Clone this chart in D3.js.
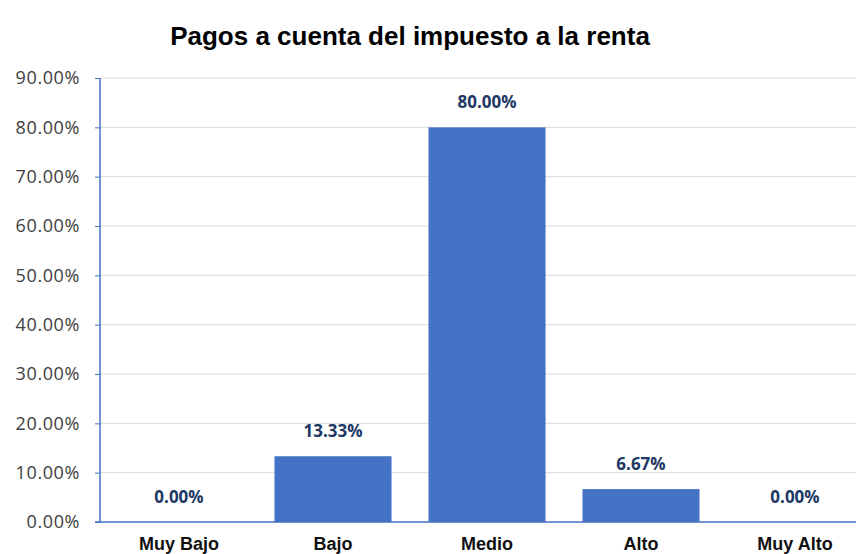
<!DOCTYPE html>
<html>
<head>
<meta charset="utf-8">
<script src="https://cdn.jsdelivr.net/npm/d3@7"></script>
<style>
  body { margin: 0; background: #fff; }
  svg { display: block; overflow: hidden; }
</style>
</head>
<body>
<div id="chart"></div>
<script>
const categories = ["Muy Bajo", "Bajo", "Medio", "Alto", "Muy Alto"];
const values = [0, 13.33, 80, 6.67, 0];
const yTicks = [0, 10, 20, 30, 40, 50, 60, 70, 80, 90];

const width = 860;
const height = 554;
const margin = { top: 78, left: 100, bottom: 32 };

const svg = d3.select("#chart")
  .append("svg")
  .attr("width", width)
  .attr("height", height);

// title
svg.append("text")
  .attr("x", 410)
  .attr("y", 45)
  .attr("text-anchor", "middle")
  .attr("font-family", "Liberation Sans, Arial, sans-serif")
  .attr("font-weight", "bold")
  .attr("font-size", 26)
  .attr("fill", "#000")
  .text("Pagos a cuenta del impuesto a la renta");

// plot area runs a little past the right edge (cropped in the original)
const x = d3.scaleBand()
  .domain(categories)
  .range([margin.left + 2, 872])
  .paddingInner(0.24)
  .paddingOuter(0.12);

const y = d3.scaleLinear()
  .domain([0, 90])
  .range([height - margin.bottom, margin.top]);

// gridlines
svg.append("g")
  .selectAll("line")
  .data(yTicks.filter(d => d > 0))
  .join("line")
  .attr("x1", margin.left)
  .attr("x2", width - 4)
  .attr("y1", d => y(d))
  .attr("y2", d => y(d))
  .attr("stroke", "#d9d9d9")
  .attr("stroke-width", 1);

// bars
svg.append("g")
  .selectAll("rect")
  .data(values)
  .join("rect")
  .attr("x", (d, i) => x(categories[i]))
  .attr("width", x.bandwidth())
  .attr("y", d => y(d))
  .attr("height", d => y(0) - y(d))
  .attr("fill", "#4472c4");

// y axis
const yAxis = svg.append("g")
  .attr("transform", `translate(${margin.left},0)`)
  .call(d3.axisLeft(y)
    .tickValues(yTicks)
    .tickSize(5)
    .tickPadding(15)
    .tickFormat(d => d.toFixed(2) + "%"));

yAxis.select(".domain").attr("stroke", "#4472c4").attr("stroke-width", 1.5)
  .attr("d", `M0,${y(90)}V${y(0)}`);
yAxis.selectAll(".tick line").attr("stroke", "#4472c4");
yAxis.selectAll(".tick text")
  .attr("font-family", "Open Sans, sans-serif")
  .attr("font-size", 18)
  .attr("letter-spacing", 0.6)
  .attr("fill", "#404040");

// x axis line
svg.append("line")
  .attr("x1", margin.left - 5)
  .attr("x2", width - 4)
  .attr("y1", y(0))
  .attr("y2", y(0))
  .attr("stroke", "#4472c4")
  .attr("stroke-width", 1.5);

// x labels
svg.append("g")
  .selectAll("text")
  .data(categories)
  .join("text")
  .attr("x", d => x(d) + x.bandwidth() / 2)
  .attr("y", y(0) + 28)
  .attr("text-anchor", "middle")
  .attr("font-family", "Liberation Sans, Arial, sans-serif")
  .attr("font-weight", "bold")
  .attr("font-size", 18)
  .attr("fill", "#111")
  .text(d => d);

// data labels
svg.append("g")
  .selectAll("text")
  .data(values)
  .join("text")
  .attr("x", (d, i) => x(categories[i]) + x.bandwidth() / 2)
  .attr("y", d => y(d) - 19)
  .attr("text-anchor", "middle")
  .attr("font-family", "Open Sans, sans-serif")
  .attr("font-weight", "bold")
  .attr("font-size", 17)
  .attr("fill", "#203864")
  .text(d => d.toFixed(2) + "%");
</script>
</body>
</html>
